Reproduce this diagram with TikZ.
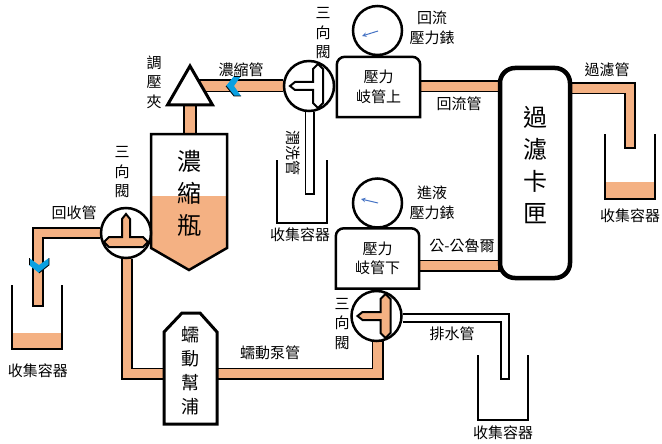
\documentclass[tikz,border=0pt]{standalone}
\usepackage{fontspec}
\setmainfont{Noto Sans CJK TC}
\usetikzlibrary{backgrounds,shapes.geometric}
\definecolor{pipecol}{RGB}{244,177,131}
\definecolor{chevcol}{RGB}{10,160,225}
\definecolor{needlecol}{RGB}{68,114,196}
\tikzset{
  lab/.style={inner sep=0pt,align=center,font=\fontsize{15}{19.5}\selectfont},
  biglab/.style={inner sep=0pt,align=center,font=\fontsize{24}{32}\selectfont},
  pipe/.style={draw=pipecol,line width=#1-3.5pt,line join=miter,preaction={draw=black,line width=#1,shorten >=-2pt}},
  pipe/.default=12pt,
  thinpipe/.style={pipe=10pt,draw=white},
  valve/.style={circle,draw,line width=2.5pt,fill=white,minimum size=50pt,inner sep=0pt},
  gauge/.style={circle,draw,line width=2.5pt,fill=white,minimum size=49pt,inner sep=0pt},
  manifold/.style={lab,minimum width=83pt,minimum height=60pt,fill=white},
  cartridge/.style={rectangle,rounded corners=15pt,draw,line width=4.5pt,fill=white,minimum width=70pt,minimum height=210pt},
  clampnode/.style={regular polygon,regular polygon sides=3,draw,line width=3pt,fill=white,minimum size=52pt,inner sep=0pt},
  beaker/.style={line width=2pt,line join=miter},
  needle/.style={needlecol,line width=1pt,-stealth},
  tvalve/.pic={
    \draw[line width=2pt,pic actions] (-19,0) -- (-14,-4) -- (4,-4) -- (4,-17) -- (9,-22) -- (14,-17)
      -- (14,17) -- (9,22) -- (4,17) -- (4,4) -- (-14,4) -- cycle;
  },
  chevron/.pic={
    \fill[chevcol] (-7.5,0) -- (0.5,-10) -- (7.5,-10) -- (0.5,0) -- (7.5,10) -- (0.5,10) -- cycle;
    \draw[line width=.8pt] (-7.5,0) -- (0.5,10) -- (7.5,10);
    \draw[line width=.8pt] (0.5,-10) -- (7.5,-10);
  },
}
\begin{document}
\begin{tikzpicture}[x=1pt,y=-1pt]
\useasboundingbox (0,0) rectangle (662,444);

% flask
\path[fill=white] (151,134) rectangle (227,196);
\fill[pipecol] (151,196) -- (227,196) -- (227,248) -- (189,270) -- (151,248) -- cycle;
\draw[line width=2.5pt] (151,134) -- (227,134) -- (227,248) -- (189,270) -- (151,248) -- cycle;
\node[biglab,minimum width=76pt,minimum height=119pt] (flask) at (189,193.5) {濃\\縮\\瓶};

% parts
\node[clampnode] (clamp) at (190,92) {};
\node[cartridge] (filter) at (535,173) {};
\node[biglab] (filterText) at (535,165) {過\\濾\\卡\\匣};
\node[manifold] (pressUp) at (378.5,87) {壓力\\岐管上};
\node[manifold] (pressDown) at (377.5,258.5) {壓力\\岐管下};
\foreach \m in {pressUp,pressDown}
  \draw[line width=2.5pt,rounded corners=8pt] (\m.south west) -- (\m.north west) -- (\m.north east)
    [sharp corners] -- (\m.south east) -- cycle;
\node[gauge] (gaugeUp) at (377.5,30.5) {};
\node[gauge] (gaugeDown) at (377.5,203) {};
\draw[needle] (378,31) -- (362,36);
\draw[needle] (378,203) -- (361,199);

% pump
\draw[line width=3pt,fill=white] (164,332) -- (182,313) -- (200,313) -- (217,332) -- (217,424) -- (164,424) -- cycle;
\node[inner sep=0pt,align=center,font=\fontsize{18}{24}\selectfont,minimum width=53pt,minimum height=106pt] (pump) at (190.5,371) {蠕\\動\\幫\\浦};

% valves
\node[valve] (valveTop) at (309,86) {};
\node[valve] (valveLeft) at (126,233) {};
\node[valve] (valveDown) at (376.5,316) {};
\pic[fill=white] at (valveTop) {tvalve};
\pic[fill=pipecol,rotate=-90] at (valveLeft) {tvalve};
\pic[fill=pipecol] at (valveDown) {tvalve};

% beakers
\fill[pipecol] (12,333) rectangle (62,349);
\fill[pipecol] (605,182) rectangle (655,199);
\foreach \bx/\by/\bh in {12/285/64,277/160/63,478/355/65,605/134/65}
  \draw[beaker] (\bx,\by) -- (\bx,\by+\bh) -- (\bx+50,\by+\bh) -- (\bx+50,\by);

% pipes
\begin{scope}[on background layer]
\coordinate (washEnd) at (309.5,193);
\coordinate (drainBend) at (505,318);
\coordinate (drainEnd) at (505,378);
\coordinate (outBend) at (630,88.5);
\coordinate (outEnd) at (630,147);
\coordinate (backBend) at (38,233);
\coordinate (backEnd) at (38,305);
\coordinate (pumpBendA) at (127,373.5);
\coordinate (pumpBendB) at (377.5,373.5);
\draw[pipe=14pt] (flask.north) -- (clamp |- flask.north) -- (190,105);
\draw[pipe=13pt] (valveTop.west) -- (clamp |- valveTop);
\draw[pipe] (pressUp.east |- 0,86.5) -- (filter.west |- 0,86.5);
\draw[pipe] (pressDown.east |- 0,265.5) -- (filter.west |- 0,265.5);
\draw[pipe] (filter.east |- outBend) -- (outBend) -- (outEnd);
\draw[pipe] (valveLeft.west) -- (backBend) -- (backEnd);
\draw[pipe] (valveLeft.south -| pumpBendA) -- (pumpBendA) -- (pump.west |- pumpBendA);
\draw[pipe] (pump.east |- pumpBendB) -- (pumpBendB) -- (valveDown.south -| pumpBendB);
\draw[thinpipe] (valveTop.south -| washEnd) -- (washEnd);
\draw[thinpipe] (valveDown.east |- drainBend) -- (drainBend) -- (drainEnd);
\end{scope}

% flow marks
\pic at (233.5,86) {chevron};
\pic[rotate=90] at (39,265.5) {chevron};

% labels
\node[lab] (labTop) at (323,33.5) {三\\向\\閥};
\node[lab] (labLeft) at (122,172.5) {三\\向\\閥};
\node[lab] (labDown) at (342,324) {三\\向\\閥};
\node[lab] (labClamp) at (154,82) {調\\壓\\夾};
\node[lab] (labConc) at (241,70) {濃縮管};
\node[lab,rotate=-90] (labWash) at (293,153) {潤洗管};
\node[lab] (labBack) at (74,213) {回收管};
\node[lab] (labPump) at (270,353) {蠕動泵管};
\node[lab] (labDrain) at (452,334) {排水管};
\node[lab] (labLuer) at (462,246) {公-公魯爾};
\node[lab] (labReturn) at (459,104) {回流管};
\node[lab] (labFilter) at (607,70) {過濾管};
\node[lab] (labGaugeUp) at (432,28) {回流\\壓力錶};
\node[lab] (labGaugeDown) at (432,203) {進液\\壓力錶};
\node[lab] (labBeakerA) at (38,371) {收集容器};
\node[lab] (labBeakerB) at (300,235) {收集容器};
\node[lab] (labBeakerC) at (503,433) {收集容器};
\node[lab] (labBeakerD) at (630,216) {收集容器};
\end{tikzpicture}
\end{document}
